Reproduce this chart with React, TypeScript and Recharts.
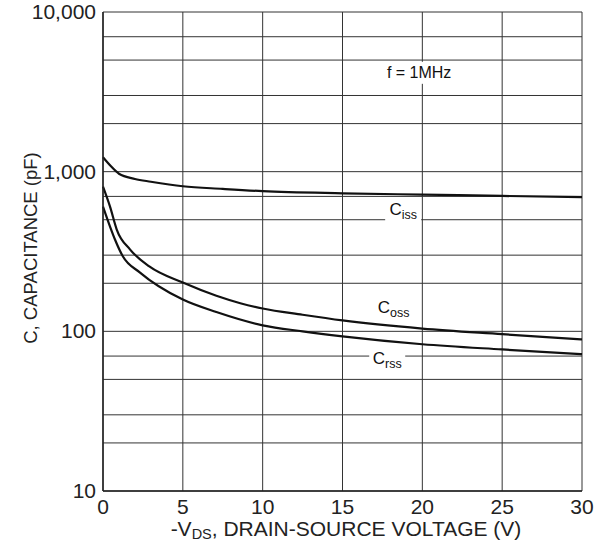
import type { FC } from "react";
import {
	CartesianGrid,
	Line,
	LineChart,
	ReferenceDot,
	XAxis,
	YAxis,
} from "recharts";

// -V_DS (V) vs capacitance (pF)
const cissV = [0, 0.5, 1, 2, 3, 5, 7.5, 10, 15, 20, 25, 30];
const cissC = [1230, 1080, 970, 900, 865, 810, 780, 755, 732, 718, 705, 692];

const cossV = [0, 0.44, 0.86, 1.7, 2.9, 5, 7.1, 8.6, 10, 12.5, 15, 20, 25, 30];
const cossC = [806, 604, 434, 325, 255, 202, 167, 150, 139, 127, 117, 104, 96, 89];

const crssV = [0, 0.44, 0.75, 1.25, 2.3, 5, 7.1, 10, 12.5, 15, 20, 25, 30];
const crssC = [604, 453, 376, 294, 234, 158, 132, 109, 100, 93, 83, 77, 72];

const xTicks = [0, 5, 10, 15, 20, 25, 30];
const yTicks = [10, 100, 1000, 10000];
const yGrid = [
	10, 20, 30, 40, 50, 60, 70, 80, 90, 100, 200, 300, 400, 500, 600, 700, 800,
	900, 1000, 2000, 3000, 4000, 5000, 6000, 7000, 8000, 9000, 10000,
];

const toRows = (vs: number[], cs: number[]) =>
	vs.map((v, i) => ({ v, c: cs[i] }));

const font = "'Liberation Sans', Arial, sans-serif";

const XTick = ({ x, y, payload }: any) => (
	<text
		x={x}
		y={y + 15}
		textAnchor="middle"
		fontFamily={font}
		fontSize={21}
		fill="#222"
	>
		{payload.value}
	</text>
);

const YTick = ({ x, y, payload }: any) => (
	<text
		x={x + 1}
		y={y + 7}
		textAnchor="end"
		fontFamily={font}
		fontSize={21}
		fill="#222"
	>
		{payload.value.toLocaleString("en-US")}
	</text>
);

const Tag = ({ cx, cy, main, sub, w, size }: any) => (
	<g>
		<rect x={cx - w / 2} y={cy - 11} width={w} height={22} fill="#fff" />
		<text
			x={cx}
			y={cy + 5}
			textAnchor="middle"
			fontFamily={font}
			fontSize={size}
			fill="#111"
		>
			{main}
			{sub && (
				<tspan fontSize={12.5} dy={4}>
					{sub}
				</tspan>
			)}
		</text>
	</g>
);

const App: FC = () => {
	return (
		<div style={{ position: "absolute", left: 0, top: 0, background: "#fff" }}>
			<LineChart
				width={598}
				height={545}
				margin={{ top: 12, right: 16, left: 0, bottom: 0 }}
			>
				<CartesianGrid
					stroke="#333"
					strokeWidth={1}
					horizontalValues={yGrid}
					verticalValues={xTicks}
				/>
				<XAxis
					type="number"
					dataKey="v"
					domain={[0, 30]}
					ticks={xTicks}
					height={54}
					tickLine={false}
					axisLine={{ stroke: "#222", strokeWidth: 1.5 }}
					tick={<XTick />}
					label={{
						content: () => (
							<text
								x={346}
								y={536}
								textAnchor="middle"
								fontFamily={font}
								fontSize={21}
								fill="#222"
							>
								-V
								<tspan fontSize={14.5} dy={3}>
									DS
								</tspan>
								<tspan dy={-3}>, DRAIN-SOURCE VOLTAGE (V)</tspan>
							</text>
						),
					}}
				/>
				<YAxis
					type="number"
					dataKey="c"
					scale="log"
					domain={[10, 10000]}
					ticks={yTicks}
					width={103}
					tickLine={false}
					axisLine={{ stroke: "#222", strokeWidth: 1.5 }}
					tick={<YTick />}
					label={{
						content: () => (
							<text
								x={37}
								y={248}
								transform="rotate(-90 37 248)"
								textAnchor="middle"
								fontFamily={font}
								fontSize={18.5}
								fill="#222"
							>
								C, CAPACITANCE (pF)
							</text>
						),
					}}
				/>
				<Line
					data={toRows(cissV, cissC)}
					dataKey="c"
					type="monotone"
					stroke="#111"
					strokeWidth={2.2}
					dot={false}
					isAnimationActive={false}
				/>
				<Line
					data={toRows(cossV, cossC)}
					dataKey="c"
					type="monotone"
					stroke="#111"
					strokeWidth={2.2}
					dot={false}
					isAnimationActive={false}
				/>
				<Line
					data={toRows(crssV, crssC)}
					dataKey="c"
					type="monotone"
					stroke="#111"
					strokeWidth={2.2}
					dot={false}
					isAnimationActive={false}
				/>
				<ReferenceDot
					x={19.8}
					y={4160}
					shape={(p: any) => (
						<Tag {...p} main="f = 1MHz" w={70} size={16} />
					)}
				/>
				<ReferenceDot
					x={18.8}
					y={575}
					shape={(p: any) => (
						<Tag {...p} main="C" sub="iss" w={36} size={17} />
					)}
				/>
				<ReferenceDot
					x={18.2}
					y={140}
					shape={(p: any) => (
						<Tag {...p} main="C" sub="oss" w={40} size={17} />
					)}
				/>
				<ReferenceDot
					x={17.8}
					y={67}
					shape={(p: any) => (
						<Tag {...p} main="C" sub="rss" w={36} size={17} />
					)}
				/>
			</LineChart>
		</div>
	);
};

export default App;
